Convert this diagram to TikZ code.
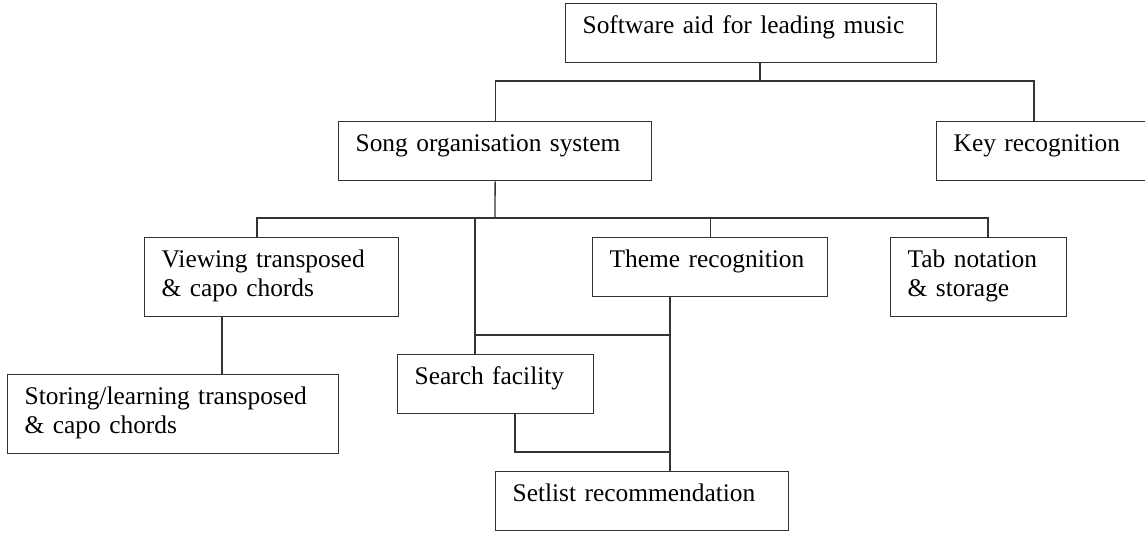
\documentclass[tikz,border=0pt]{standalone}
\usepackage{fontspec}
\setmainfont{Liberation Serif}
\usepackage{tikz}

\begin{document}
\begin{tikzpicture}[x=1pt,y=-1pt,line width=1.3pt,
		every node/.style={font=\fontsize{25.4}{28.4}\selectfont},
		box/.style={draw=black!80,anchor=north west,align=left,
			inner xsep=17pt,inner ysep=0pt,text height=30pt,text depth=29pt},
		tallbox/.style={box,text depth=49pt},
		link/.style={draw=black!80}]
		\useasboundingbox (0,0) rectangle (1145,533);

		% Boxes
		\node[box,text width=337pt] (top) at (565,3) {Software aid for leading music};
		\node[box,text width=279pt] (song) at (338,121) {Song organisation system};
		\node[box,text width=182pt] (key) at (936,121) {Key recognition};
		\node[tallbox,text width=220pt] (view) at (144,237)
			{Viewing transposed\\\& capo chords};
		\node[box,text width=201pt] (theme) at (592,237) {Theme recognition};
		\node[tallbox,text width=142pt] (tab) at (890,237)
			{Tab notation\\\& storage};
		\node[tallbox,text width=297pt] (store) at (7,374)
			{Storing/learning transposed\\\& capo chords};
		\node[box,text width=162pt] (search) at (397,354) {Search facility};
		\node[box,text width=259pt] (setlist) at (495,471) {Setlist recommendation};

		% Junction points
		\coordinate (j1) at (760,81);
		\coordinate (j2) at (495,218);
		\coordinate (j3) at (475,218);
		\coordinate (j4) at (670,335);
		\coordinate (j5) at (670,452);

		% Top level
		\draw[link] (top.south -| j1) -- (j1);
		\draw[link] (song.north) |- (j1) -| (key.north -| 1034,0);

		% Second level
		\draw[link] (song.south) -- (j2);
		\draw[link] (view.north -| 257,0) |- (j2) -| (tab.north -| 988,0);
		\draw[link] (theme.north) -- (theme.north |- j2);
		\draw[link] (j3) -- (search.north -| j3);
		\draw[link] (j3 |- j4) -- (j4);
		\draw[link] (view.south -| 222,0) -- (store.north -| 222,0);

		% Into setlist
		\draw[link] (theme.south -| j4) -- (setlist.north -| j4);
		\draw[link] (search.south -| 515,0) |- (j5);
	\end{tikzpicture}
\end{document}
